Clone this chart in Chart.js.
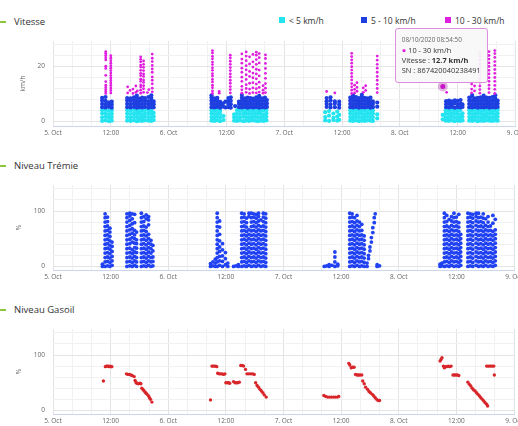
<!DOCTYPE html>
<html>
<head>
<meta charset="utf-8">
<script src="https://cdn.jsdelivr.net/npm/chart.js@4.4.1/dist/chart.umd.min.js"></script>
<style>
  body { margin: 0; width: 518px; height: 426px; overflow: hidden; background: #fff; font-family: 'Open Sans', sans-serif; }
  .block { position: relative; width: 518px; height: 144px; }
  .block canvas { position: absolute; left: 0; top: 0; }
  .dash { position: absolute; left: 0; top: 21px; width: 6px; height: 2px; background: #8cc63f; }
  .title { position: absolute; left: 14px; top: 15px; font-size: 9.5px; line-height: 13px; color: #333; }
  .legend-item { position: absolute; top: 14px; height: 12px; display: flex; align-items: center; font-size: 8.5px; color: #333; white-space: nowrap; }
  .legend-item i { display: inline-block; width: 6px; height: 6px; margin-right: 4px; }
  .tip { position: absolute; display: none; z-index: 5; padding: 6px 6px 7px; background: rgba(248,248,248,0.93);
         border: 1px solid; border-radius: 3px; font-size: 7.4px; line-height: 10px; color: #333; white-space: nowrap; }
  .tip .stamp { font-size: 6.3px; color: #666; }
</style>
</head>
<body>
<div class="block">
  <span class="dash"></span><div class="title">Vitesse</div>
  <div id="speedLegend"></div>
  <canvas id="speedChart" width="518" height="144"></canvas>
  <div class="tip" id="speedTip"></div>
</div>
<div class="block">
  <span class="dash"></span><div class="title">Niveau Trémie</div>
  <canvas id="hopperChart" width="518" height="144"></canvas>
</div>
<div class="block">
  <span class="dash"></span><div class="title">Niveau Gasoil</div>
  <canvas id="fuelChart" width="518" height="144"></canvas>
</div>
<script>
// hours counted from 5 Oct 2020 00:00
const dayLabels = ["5. Oct", "6. Oct", "7. Oct", "8. Oct", "9. Oct"];
const noonLabel = "12:00";
const speedLabels = ["< 5 km/h", "5 - 10 km/h", "10 - 30 km/h"];
const deviceSerial = "867420040238491";
const hoverStamp = 80.9139; // 08/10/2020 08:54:50

// columns: [hour, value, value, ...]
const speedSlow = [
    [10.2, 0.2, 1.5, 2.9, 4.1], [10.9, 0.4, 1.7, 3.0, 4.2], [11.6, 0.1, 1.4, 2.6, 3.9], [12.2, 0.3, 1.6, 2.8, 4.0],
    [15.4, 0.3, 1.6, 2.9, 4.1], [16.1, 0.2, 1.4, 2.7, 4.0], [16.8, 0.4, 1.7, 3.0, 4.2], [17.4, 0.1, 1.5, 2.8, 4.1],
    [17.9, 0.3, 1.6, 2.9, 4.0], [18.5, 0.2, 1.4, 2.6, 3.9], [19.1, 0.4, 1.7, 3.0, 4.2], [19.8, 0.3, 1.5, 2.8, 4.1],
    [20.4, 0.2, 1.6, 2.9, 4.0], [20.9, 0.5, 1.8, 3.1],
    [32.9, 0.3, 1.6, 2.9, 4.1], [33.5, 0.2, 1.4, 2.7, 4.0], [34.1, 0.4, 1.7, 3.0, 4.2], [34.7, 0.1, 1.5, 2.8, 4.0],
    [35.4, 0.5, 2.0],
    [37.6, 0.3, 1.5, 2.6], [38.2, 0.2, 1.6, 2.9, 4.1], [38.8, 0.4, 1.4, 2.7, 4.0], [39.5, 0.1, 1.7, 3.0, 4.2],
    [40.1, 0.3, 1.5, 2.8, 4.1], [40.7, 0.2, 1.6, 2.9, 4.0], [41.3, 0.4, 1.4, 2.7, 3.9], [41.9, 0.3, 1.7, 3.0, 4.2],
    [42.5, 0.1, 1.5, 2.8, 4.1], [43.1, 0.3, 1.6, 2.9, 4.0], [43.7, 0.2, 1.4, 2.6, 4.1], [44.3, 0.4, 1.7, 3.0, 4.2],
    [56.5, 0.4, 1.6, 3.4], [57.3, 0.2, 2.1, 3.8], [58.2, 0.5, 1.3, 2.9], [59.0, 0.3, 1.8, 3.6], [59.4, 0.6, 2.4],
    [61.7, 0.3, 1.6, 2.9, 4.1], [62.3, 0.2, 1.4, 2.7, 4.0], [62.9, 0.4, 1.7, 3.0, 4.2], [63.5, 0.1, 1.5, 2.8, 4.1],
    [64.1, 0.3, 1.6, 2.9, 4.0], [64.7, 0.2, 1.4, 2.6, 3.9], [65.3, 0.4, 1.7, 3.0, 4.2], [65.9, 0.3, 1.5, 2.8, 4.1],
    [66.4, 0.2, 1.6, 2.9, 4.0], [67.3, 1.1, 2.6],
    [80.9, 0.8, 2.4], [81.5, 0.3, 1.6, 2.9, 4.1], [82.1, 0.2, 1.4, 2.7, 4.0], [82.7, 0.4, 1.7, 3.0, 4.2],
    [83.3, 0.1, 1.5, 2.8, 4.1], [83.9, 0.3, 1.6, 2.9, 4.0], [84.5, 0.2, 1.4, 2.6, 4.1], [85.0, 0.4, 1.7, 3.0],
    [86.4, 0.3, 1.6, 2.9, 4.1], [87.0, 0.2, 1.4, 2.7, 4.0], [87.6, 0.4, 1.7, 3.0, 4.2], [88.2, 0.1, 1.5, 2.8, 4.1],
    [88.8, 0.3, 1.6, 2.9, 4.0], [89.4, 0.2, 1.4, 2.6, 3.9], [90.0, 0.4, 1.7, 3.0, 4.2], [90.6, 0.3, 1.5, 2.8, 4.1],
    [91.2, 0.2, 1.6, 2.9, 4.0], [91.8, 0.4, 1.4, 2.7, 4.1], [92.3, 0.3, 1.7, 3.0, 4.2]
];

const speedMid = [
    [10.2, 5.2, 6.4, 7.6, 8.6], [10.9, 5.1, 6.3, 7.5, 8.9], [11.6, 5.3, 6.2, 7.0], [12.2, 5.0, 6.1, 7.2],
    [15.4, 5.2, 6.4, 7.6, 8.5], [16.1, 5.1, 6.3, 7.5, 8.4], [16.8, 5.3, 6.5, 7.7, 8.8], [17.4, 5.0, 6.2, 7.4, 8.6, 9.4],
    [17.9, 5.2, 6.4, 7.6, 8.3], [18.5, 5.1, 6.3, 7.5, 8.7], [19.1, 5.3, 6.5, 7.6, 8.5], [19.8, 5.0, 6.2, 7.4, 8.9],
    [20.4, 5.2, 6.4, 7.7, 8.6, 9.5], [20.9, 5.1, 6.3, 7.3],
    [32.9, 5.2, 6.4, 7.6, 8.7, 9.5], [33.5, 5.1, 6.3, 7.5, 8.4], [34.1, 5.3, 6.5, 7.7, 8.6], [34.7, 5.0, 6.2, 7.1],
    [35.3, 5.4, 6.6], [35.8, 5.1, 7.2], [36.4, 5.2, 6.4, 7.6, 8.5], [36.9, 5.0, 6.3, 7.5, 8.8],
    [37.8, 5.6], [38.6, 5.2, 6.4, 7.2], [39.2, 5.1, 6.3, 7.5, 8.6, 9.6], [39.8, 5.3, 6.5, 7.7, 8.4],
    [40.4, 5.0, 6.2, 7.4, 8.7], [41.0, 5.2, 6.4, 7.6, 8.5], [41.6, 5.1, 6.3, 7.5, 8.3], [42.2, 5.3, 6.5, 7.7, 8.8],
    [42.8, 5.0, 6.2, 7.4, 8.6, 9.3], [43.4, 5.2, 6.4, 7.6, 8.4], [44.0, 5.1, 6.3, 7.5, 8.7], [44.4, 5.3, 6.5, 7.8],
    [56.8, 5.3, 6.4, 7.4, 8.5], [57.6, 5.1, 6.2, 7.6, 8.8], [58.5, 5.2, 6.5, 7.3], [59.4, 5.0, 6.1, 7.2],
    [61.7, 5.2, 6.4, 7.6, 8.7], [62.3, 5.1, 6.3, 7.5, 8.4, 9.5], [62.9, 5.3, 6.5, 7.7, 8.9], [63.5, 5.0, 6.2, 7.4, 8.5],
    [64.1, 5.2, 6.4, 7.6, 8.8, 9.7], [64.7, 5.1, 6.3, 7.5, 8.6], [65.3, 5.3, 6.5, 7.7, 8.4], [65.9, 5.0, 6.2, 7.4, 8.7],
    [66.4, 5.2, 6.4, 7.3], [67.3, 5.4, 6.9],
    [81.6, 5.2, 6.3, 7.4], [82.2, 5.1, 6.4, 7.6], [82.8, 5.3, 6.2, 7.3], [83.4, 5.0, 6.5, 7.7],
    [84.0, 5.2, 6.3, 7.5], [84.6, 5.1, 6.4, 7.8], [85.0, 5.3, 6.2],
    [86.4, 5.2, 6.4, 7.6, 8.7], [87.0, 5.1, 6.3, 7.5, 8.9, 9.6], [87.6, 5.3, 6.5, 7.7, 8.4], [88.2, 5.0, 6.2, 7.4, 8.6],
    [88.8, 5.2, 6.4, 7.6, 8.8], [89.4, 5.1, 6.3, 7.5, 8.5, 9.4], [90.0, 5.3, 6.5, 7.7, 8.7], [90.6, 5.0, 6.2, 7.4, 8.6],
    [91.2, 5.2, 6.4, 7.6, 8.9], [91.8, 5.1, 6.3, 7.5, 8.4, 9.5], [92.3, 5.3, 6.5, 7.6]
];

const speedFast = [
    [10.95, 10.2, 10.9, 11.6, 12.4, 13.2, 14.5, 16.8, 19.3, 20.1, 22.4, 23.2, 24.0, 24.8, 25.4],
    [12.0, 10.4, 11.3, 12.2, 13.1, 14.0, 14.9, 15.8, 16.7, 17.6, 18.5, 19.4, 20.3, 21.2, 22.1, 23.0, 23.9],
    [15.5, 10.4, 12.6], [16.0, 11.3], [16.6, 10.2, 11.8], [17.2, 10.6, 12.9], [17.5, 11.1],
    [18.2, 10.3, 11.4, 12.5, 13.3, 14.6, 15.4, 16.7, 17.5, 18.6, 19.8, 20.5, 21.7, 22.6, 23.5],
    [18.8, 10.6, 11.9, 13.0, 14.2, 15.1, 16.4, 17.3, 18.5, 19.7, 20.8, 22.0],
    [19.6, 10.5], [19.9, 11.6],
    [20.6, 10.8, 12.1, 13.7, 15.0, 16.2, 17.9, 19.1, 20.4, 21.8, 23.0, 24.5],
    [33.1, 10.2, 11.1, 12.3, 13.2, 14.4, 15.3, 16.5, 17.4, 18.6, 19.5, 20.7, 21.6, 22.8, 23.7, 24.9, 25.8],
    [34.5, 10.3, 10.9],
    [36.8, 10.4, 11.6, 12.7, 13.9, 15.0, 16.2, 17.3, 18.5, 19.6, 20.8, 21.9, 23.1, 24.1],
    [39.2, 10.3, 11.5, 12.8, 14.6, 16.1, 17.9, 19.4, 21.2, 22.7, 24.6],
    [40.1, 10.6, 12.0, 13.4, 15.3, 17.0, 18.8, 20.3, 22.1, 23.8, 25.3],
    [40.8, 10.2, 11.8, 13.9, 16.4, 18.2, 20.9, 23.5],
    [41.5, 10.5, 12.2, 14.1, 15.9, 17.6, 19.8, 21.7, 24.4],
    [42.2, 10.4, 11.9, 13.6, 15.5, 17.3, 19.0, 20.8, 22.5, 24.1, 25.2],
    [42.8, 10.7, 12.4, 14.3, 16.6, 18.7, 21.3, 23.2, 24.7],
    [43.6, 10.3, 11.4, 13.0],
    [44.1, 10.5, 12.1, 13.8, 15.7, 17.5, 19.3, 21.1, 22.9, 24.2],
    [56.8, 10.9], [58.5, 10.4],
    [62.0, 10.2, 11.4, 12.6, 13.8, 15.1, 16.3, 17.5, 18.7, 19.9, 21.2, 22.4, 23.6, 24.8],
    [62.6, 10.4, 11.7, 13.2], [63.1, 11.0, 12.4, 14.1], [64.4, 10.6, 12.2], [64.9, 11.3, 13.0],
    [67.3, 10.5, 12.0, 13.5, 15.0, 16.4, 17.9, 19.4, 20.8, 22.3, 23.8],
    [hoverStamp, 12.7], [81.7, 10.6],
    [86.9, 10.4, 11.8, 13.6], [87.5, 11.1, 12.9],
    [88.6, 10.3, 11.6, 12.9, 14.3, 15.6, 16.9, 18.3, 19.6, 20.9, 22.3, 23.6, 24.9],
    [90.5, 10.5, 11.9, 13.2, 14.6, 15.9, 17.3, 18.6, 20.0, 21.3, 22.7, 24.0, 25.4],
    [91.7, 10.2, 11.7, 13.1, 14.6, 16.0, 17.5, 18.9, 20.4, 21.8, 23.3, 24.7, 25.8]
];

const hopperLevel = [
    [10.3, 0, 4], [10.85, 0, 8, 16, 24, 32, 40, 48, 56, 64, 72, 80, 88, 95],
    [11.35, 1, 9, 17, 25, 33, 41, 49, 57, 65, 73, 81, 89], [11.85, 0, 7, 15, 23, 31, 38, 46, 54, 62, 69],
    [12.3, 2, 10, 18, 27, 36, 44],
    [15.4, 0, 8, 16, 24, 32, 40, 48, 56, 64, 72, 80, 88, 95], [16.0, 1, 9, 17, 25, 33, 41, 49, 58, 66, 74, 83, 91, 96],
    [16.5, 0, 7, 15, 23, 30, 44, 52, 60, 68, 77, 86, 95], [17.0, 2, 10, 18, 26, 34, 42, 50, 57, 65, 79, 94],
    [17.4, 0, 8, 16, 25, 33, 41, 48, 62],
    [18.4, 0, 8, 16, 24, 32, 40, 48, 56, 64, 72, 80, 88, 96], [18.9, 1, 9, 17, 25, 33, 41, 49, 57, 65, 73, 81, 90],
    [19.4, 0, 7, 15, 23, 31, 39, 47, 55, 63, 71, 86, 93], [19.9, 2, 10, 18, 26, 34, 42, 50, 58, 75, 84, 90],
    [20.4, 0, 8, 16, 24, 32, 40, 47], [20.8, 1, 9, 17, 28, 38],
    [32.8, 0, 5], [33.3, 1, 8], [33.8, 0, 6, 13],
    [34.2, 0, 8, 16, 24, 32, 40, 48, 56, 64, 72, 80, 88, 96], [34.7, 2, 10, 18, 27, 35, 46, 58, 71, 82],
    [35.3, 0, 9, 19, 30, 41], [35.9, 3, 14, 25], [36.4, 0, 6],
    [37.6, 0], [38.1, 1], [38.6, 0, 3],
    [39.3, 0, 8, 16, 24, 32, 40, 48, 56, 64, 72, 80, 88, 96], [39.8, 1, 9, 17, 25, 33, 41, 49, 57, 65, 73, 81, 89, 95],
    [40.3, 0, 7, 15, 23, 31, 39, 47, 55, 63, 71, 79, 87], [40.8, 2, 10, 18, 26, 34, 42, 50, 58, 66, 90, 96],
    [41.3, 0, 8, 16, 24, 32, 40, 48, 56, 64, 72, 80, 88, 96], [41.8, 1, 9, 17, 25, 33, 41, 49, 57, 65, 73, 81, 89, 95],
    [42.3, 0, 7, 15, 23, 31, 39, 47, 55, 63, 71, 79, 87, 94], [42.8, 2, 10, 18, 26, 34, 42, 50, 58, 66, 74, 82, 90, 96],
    [43.3, 0, 8, 16, 24, 32, 40, 48, 56, 64, 72, 84], [43.8, 1, 9, 17, 25, 33, 41, 49, 57, 65, 73, 81, 89, 96],
    [44.3, 0, 7, 15, 23, 31, 39, 47, 55, 63, 71, 79, 87, 95],
    [56.5, 0], [57.0, 1], [57.5, 0, 3], [58.1, 2], [58.7, 0, 8, 17, 26], [59.3, 1, 4],
    [61.8, 0, 8, 16, 24, 32, 40, 48, 56, 64, 72, 80, 88, 96], [62.3, 1, 9, 17, 25, 33, 41, 49, 57, 65, 73, 81, 89, 95],
    [62.8, 0, 7, 15, 23, 31, 39, 47, 55, 63, 71, 79, 88], [63.3, 2, 10, 18, 26, 34, 42, 50, 58, 66, 74, 82, 92],
    [63.8, 0, 8, 16, 24, 32, 40, 48, 56, 64, 72, 80], [64.3, 1, 9, 17, 25, 33, 41, 49, 57, 65, 76],
    [64.8, 0, 7, 15, 23, 31, 39, 47, 55],
    [65.4, 0, 6], [65.7, 14, 20], [66.0, 28, 35], [66.3, 44, 52], [66.6, 61, 70], [66.9, 79, 88], [67.1, 95],
    [67.5, 0, 3], [68.0, 1],
    [80.6, 0, 4], [81.0, 1, 6],
    [81.5, 0, 8, 16, 24, 32, 40, 48, 56, 64, 72, 80, 88, 96], [82.0, 1, 9, 17, 25, 33, 41, 49, 57, 65, 73, 81, 92],
    [82.5, 0, 7, 15, 23, 31, 39, 47, 55, 63, 71, 85], [83.0, 2, 10, 18, 26, 34, 42, 50, 58, 66, 74, 82, 90],
    [83.5, 0, 8, 16, 24, 32, 40, 48, 56, 64, 72, 80, 88, 96], [84.0, 1, 9, 17, 25, 33, 41, 49, 57, 65, 73, 81, 89],
    [84.5, 0, 7, 15, 23, 31, 39, 47, 55, 63, 71, 79, 94], [84.9, 2, 10, 18, 26, 34, 42, 50, 58],
    [86.4, 0, 8, 16, 24, 32, 40, 48, 56, 64, 72, 80, 88, 96], [86.9, 1, 9, 17, 25, 33, 41, 49, 57, 65, 73, 81, 89, 95],
    [87.4, 0, 7, 15, 23, 31, 39, 47, 55, 63, 71, 79, 87, 94], [88.1, 2, 10, 18, 26, 34, 42, 50, 58, 66, 74, 82, 90, 96],
    [88.6, 0, 8, 16, 24, 32, 40, 48, 56, 64, 72, 80, 88, 96], [89.1, 1, 9, 17, 25, 33, 41, 49, 57, 65, 73, 81, 89],
    [89.6, 0, 7, 15, 23, 31, 39, 47, 55, 63, 71, 79, 87, 95], [90.1, 2, 10, 18, 26, 34, 42, 50, 58, 66, 74, 86],
    [90.6, 0, 8, 16, 24, 32, 40, 48, 56, 64, 72, 80, 90], [91.1, 1, 9, 17, 25, 33, 41, 49, 57, 65, 73],
    [91.6, 0, 7, 15, 23, 31, 39, 47, 55, 63, 78, 92], [92.1, 2, 10, 18, 26, 34, 42, 50, 58, 66, 85]
];

// [hour, %]
const fuelLevel = [
    [10.5, 53],
    [10.9, 79], [11.1, 80], [11.3, 80], [11.5, 80], [11.7, 79], [11.9, 80], [12.1, 79], [12.25, 79],
    [15.3, 66], [15.6, 65], [15.9, 65], [16.2, 64], [16.5, 63], [16.9, 61],
    [17.1, 54], [17.3, 50], [17.5, 49], [17.8, 48], [18.1, 49], [18.3, 48],
    [18.5, 40], [18.7, 38], [18.9, 36], [19.2, 33], [19.4, 31], [19.6, 29], [19.9, 26], [20.1, 23], [20.3, 20], [20.6, 15],
    [32.8, 19],
    [33.1, 80], [33.3, 80], [33.6, 80], [33.9, 80], [34.1, 79],
    [34.3, 67], [34.6, 66], [34.9, 66], [35.2, 66], [35.5, 65], [35.8, 66],
    [36.0, 50], [36.3, 50], [36.6, 50], [36.8, 49],
    [37.6, 52], [37.9, 50], [38.2, 50], [38.5, 50], [38.8, 51],
    [39.1, 81], [39.4, 81], [39.7, 80], [40.1, 74],
    [40.4, 66], [40.8, 66], [41.2, 66], [41.6, 66], [41.9, 65],
    [42.2, 50], [42.5, 45], [42.8, 42], [43.1, 38], [43.4, 35], [43.7, 32], [44.0, 28], [44.4, 24],
    [56.4, 27], [56.8, 25], [57.2, 24], [57.6, 24], [58.0, 24], [58.4, 24], [58.8, 24], [59.2, 24], [59.5, 25],
    [61.6, 85], [61.8, 82], [62.1, 77], [62.4, 78], [62.7, 78],
    [63.0, 65], [63.3, 64], [63.6, 64], [63.9, 64], [64.3, 64],
    [64.5, 53], [64.8, 48], [65.1, 42], [65.5, 38], [65.8, 34], [66.1, 32],
    [66.5, 29], [66.8, 26], [67.1, 23], [67.4, 20], [67.7, 18], [68.0, 18],
    [80.6, 89], [80.8, 92], [81.0, 95],
    [81.3, 80], [81.5, 77], [81.7, 79], [82.0, 79], [82.3, 80], [82.6, 79], [82.9, 80],
    [83.3, 64], [83.6, 64], [83.9, 64], [84.2, 64], [84.5, 63],
    [86.4, 51], [86.7, 47], [87.0, 44], [87.3, 40], [87.6, 37], [87.9, 35], [88.2, 32], [88.5, 29],
    [88.8, 26], [89.1, 23], [89.4, 20], [89.7, 17], [90.0, 14], [90.3, 11], [90.5, 8],
    [90.3, 80], [90.6, 80], [90.9, 80], [91.2, 80], [91.5, 80], [91.8, 80], [91.9, 64]
];

const speedColors = ["#24e4f0", "#1e3fe0", "#e01ee0"];
const hopperColor = "#2142f2";
const fuelColor = "#d8262b";
const majorGrid = "#e4e4e4";
const minorGrid = "#f1f1f1";

Chart.defaults.font.family = "'Open Sans', sans-serif";
Chart.defaults.font.size = 6.5;
Chart.defaults.color = "#666";

const toPoints = cols => cols.flatMap(([x, ...ys]) => ys.map(y => ({ x, y })));

function hourLabel(v) {
    if (v % 24 === 0) return dayLabels[v / 24];
    return v % 12 === 0 ? noonLabel : "";
}

function pad(n) {
    return String(n).padStart(2, "0");
}

function formatStamp(hours) {
    let s = Math.round(hours * 3600);
    const day = 5 + Math.floor(s / 86400);
    s %= 86400;
    return `${pad(day)}/10/2020 ${pad(Math.floor(s / 3600))}:${pad(Math.floor(s / 60) % 60)}:${pad(s % 60)}`;
}

function chartOptions(yMin, yMax, yStep, yMajor, yTitle, titlePad, extra = {}) {
    const yGrid = [];
    for (let v = 0; v <= yMax; v += yStep) yGrid.push(v);
    const xGrid = [];
    for (let h = 0; h <= 96; h += 4) xGrid.push(h);

    return {
        responsive: false,
        animation: false,
        events: [],
        layout: { padding: { top: 41, left: 0, right: 0, bottom: 0 } },
        plugins: {
            legend: { display: false },
            tooltip: { enabled: false, ...extra.tooltip }
        },
        scales: {
            x: {
                type: "linear",
                min: 0,
                max: 96,
                afterBuildTicks: axis => { axis.ticks = xGrid.map(v => ({ value: v })); },
                afterFit: axis => { axis.height = 18; axis.paddingRight = 0; },
                ticks: { autoSkip: false, maxRotation: 0, padding: 3, callback: hourLabel },
                grid: { drawTicks: false, color: ctx => ctx.tick.value % 12 === 0 ? majorGrid : minorGrid },
                border: { color: "#ccd6eb" }
            },
            y: {
                min: yMin,
                max: yMax,
                afterBuildTicks: axis => { axis.ticks = yGrid.map(v => ({ value: v })); },
                afterFit: axis => { axis.width = 53; },
                ticks: { padding: 8, callback: v => v % yMajor === 0 ? String(v) : "" },
                grid: { drawTicks: false, color: ctx => ctx.tick.value % yMajor === 0 ? majorGrid : minorGrid },
                border: { display: false },
                title: { display: true, text: yTitle, padding: { top: titlePad, bottom: 0 }, color: "#666" }
            }
        }
    };
}

function renderTooltip({ tooltip }) {
    const box = document.getElementById("speedTip");
    if (tooltip.opacity === 0 || !tooltip.dataPoints.length) {
        box.style.display = "none";
        return;
    }
    const item = tooltip.dataPoints[0];
    const color = item.dataset.backgroundColor;
    box.innerHTML =
        `<div class="stamp">${formatStamp(item.raw.x)}</div>` +
        `<div><span style="color:${color}">\u25CF</span> ${item.dataset.label}</div>` +
        `<div>Vitesse : <b>${item.raw.y} km/h</b></div>` +
        `<div>SN : ${deviceSerial}</div>`;
    box.style.borderColor = "#dc8ddc";
    box.style.display = "block";
    box.style.left = (tooltip.caretX - 48) + "px";
    box.style.top = (tooltip.caretY - box.offsetHeight - 4) + "px";
}

const speedChart = new Chart(document.getElementById("speedChart"), {
    type: "scatter",
    data: {
        datasets: [speedSlow, speedMid, speedFast].map((cols, i) => ({
            label: speedLabels[i],
            data: toPoints(cols),
            backgroundColor: speedColors[i],
            pointRadius: i === 2 ? 1.4 : 2.1,
            pointBorderWidth: 0,
            pointHoverRadius: 2.5,
            pointHoverBorderWidth: 5,
            pointHoverBorderColor: "rgba(150,0,150,0.3)",
            pointHoverBackgroundColor: speedColors[i],
            order: 3 - i
        }))
    },
    options: chartOptions(-1.64, 29.27, 2, 10, "km/h", 19, { tooltip: { external: renderTooltip } })
});

// legend built from the datasets
const legendLefts = [279, 361, 445];
const legendBox = document.getElementById("speedLegend");
speedChart.data.datasets.forEach((ds, i) => {
    const item = document.createElement("div");
    item.className = "legend-item";
    item.style.left = legendLefts[i] + "px";
    item.innerHTML = `<i style="background:${ds.backgroundColor}"></i>${ds.label}`;
    legendBox.appendChild(item);
});

new Chart(document.getElementById("hopperChart"), {
    type: "scatter",
    data: {
        datasets: [{
            label: "Niveau Trémie",
            data: toPoints(hopperLevel),
            backgroundColor: hopperColor,
            pointRadius: 1.9,
            pointBorderWidth: 0
        }]
    },
    options: chartOptions(-6.5, 147, 10, 50, "%", 15)
});

new Chart(document.getElementById("fuelChart"), {
    type: "scatter",
    data: {
        datasets: [{
            label: "Niveau Gasoil",
            data: fuelLevel.map(([x, y]) => ({ x, y })),
            backgroundColor: fuelColor,
            pointRadius: 1.7,
            pointBorderWidth: 0
        }]
    },
    options: chartOptions(-6.5, 147, 10, 50, "%", 15)
});

// show the hovered point as in the capture
const hoverIndex = speedChart.data.datasets[2].data.findIndex(p => p.x === hoverStamp);
const active = [{ datasetIndex: 2, index: hoverIndex }];
speedChart.setActiveElements(active);
speedChart.tooltip.setActiveElements(active, { x: 0, y: 0 });
speedChart.update();
</script>
</body>
</html>
